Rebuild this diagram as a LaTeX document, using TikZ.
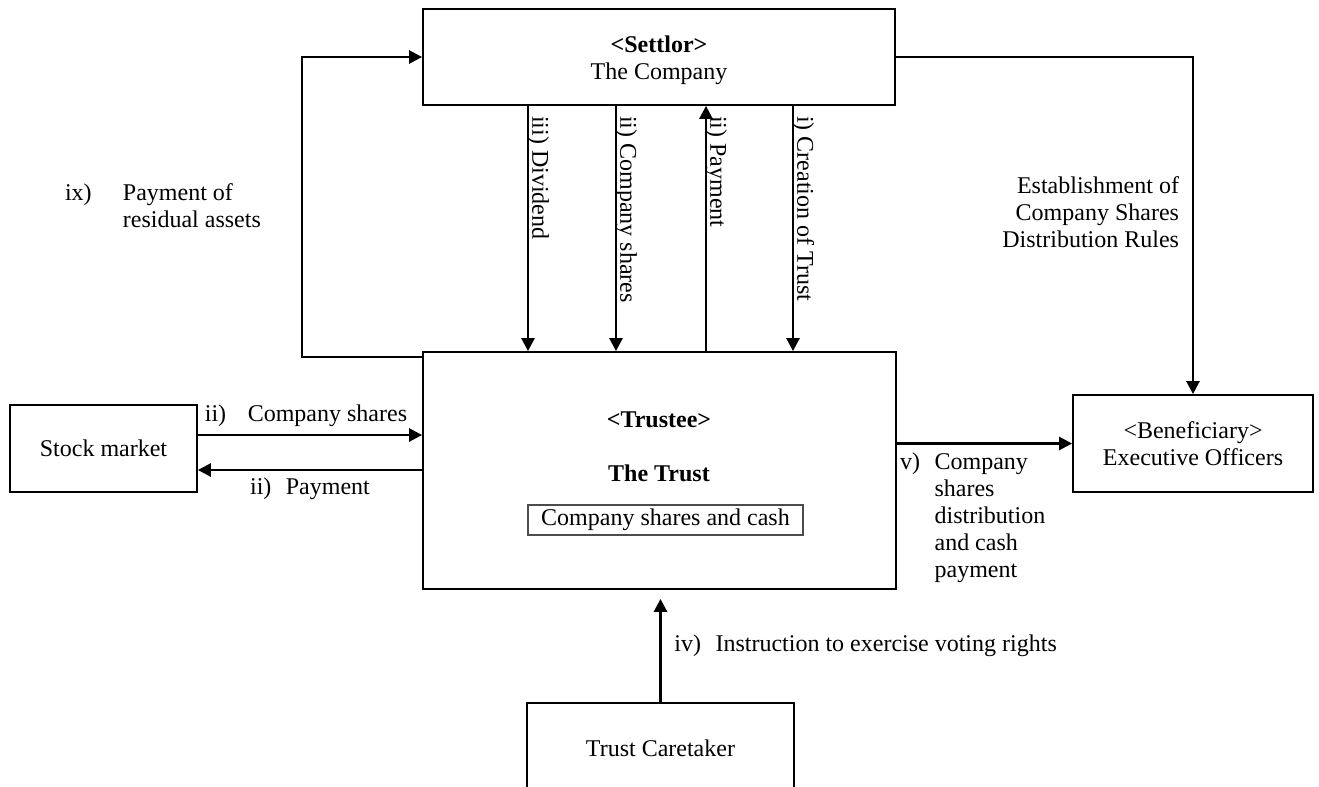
\documentclass[tikz,border=0pt]{standalone}
\usepackage{fontspec}
\setmainfont{Liberation Serif}
\usetikzlibrary{positioning, arrows.meta}

\begin{document}
\begin{tikzpicture}[x=0.5pt, y=-0.5pt,
    font=\fontsize{12}{13.5}\selectfont,
    box/.style={draw, line width=0.9pt, align=center, inner sep=0pt},
    arr/.style={line width=1.3pt, -{Triangle[length=6.5pt, width=6.5pt]}},
    vlabel/.style={rotate=-90, anchor=south west, inner sep=2pt, xshift=2.5pt, yshift=-3pt}]
    \useasboundingbox (0,0) rectangle (1319,787);
    \clip (0,0) rectangle (1319,787);

    \node[box, minimum width=236pt, minimum height=48pt] (settlor) at (659,57) {};
    \node[align=center] (settlortext) at (659,60) {\textbf{<Settlor>}\\The Company};
    \node[box, minimum width=236.5pt, minimum height=118.5pt] (trust) at (659.5,470.5) {};
    \node (trustee) at (659,420) {\textbf{<Trustee>}};
    \node (trustname) at (659,473) {\textbf{The Trust}};
    \node[draw=black!70, line width=0.6pt, minimum width=137.5pt, minimum height=15pt, inner ysep=1pt] (holdings) at (665.5,520) {Company shares and cash};
    \node[box, minimum width=93.5pt, minimum height=43.5pt] (stock) at (103.5,448.5) {Stock market};
    \node[box, minimum width=120pt, minimum height=48.5pt] (benef) at (1193,443.5) {<Beneficiary>\\Executive Officers};
    \node[box, minimum width=133.5pt, minimum height=45pt] (caretaker) at (660.5,748) {Trust Caretaker};

    \coordinate (xdiv) at (528,0);
    \coordinate (xsha) at (616,0);
    \coordinate (xpay) at (706,0);
    \coordinate (xcre) at (793,0);
    \coordinate (xloop) at (302,0);
    \coordinate (ybuy) at (0,435);
    \coordinate (ysell) at (0,470);

    \draw[arr] (settlor.south -| xdiv) -- (trust.north -| xdiv)
        node[vlabel, pos=0] (divlabel) {iii) Dividend};
    \draw[arr] (settlor.south -| xsha) -- (trust.north -| xsha)
        node[vlabel, pos=0] (shalabel) {ii) Company shares};
    \draw[arr] (trust.north -| xpay) -- (settlor.south -| xpay)
        node[vlabel, pos=1] (paylabel) {ii) Payment};
    \draw[arr] (settlor.south -| xcre) -- (trust.north -| xcre)
        node[vlabel, pos=0] (crelabel) {i) Creation of Trust};

    \draw[arr] ([yshift=-3pt]trust.north west) -| (xloop |- settlor.west) -- (settlor.west);
    \node[anchor=west] (residlabel) at (58,209) {\begin{tabular}{@{}l@{\hspace{1.3em}}l@{}} ix) & Payment of\\ & residual assets\end{tabular}};

    \draw[arr] (stock.east |- ybuy) -- (trust.west |- ybuy)
        node[midway, above, xshift=-2pt] (buylabel) {ii)\hspace{0.9em}Company shares};
    \draw[arr] (trust.west |- ysell) -- (stock.east |- ysell)
        node[midway, below] (selllabel) {ii)\hspace{0.6em}Payment};

    \draw[arr] (settlor.east) -| (benef.north)
        node[pos=0.73, left, align=right, xshift=-3pt] (rulelabel) {Establishment of\\Company Shares\\Distribution Rules};

    \draw[arr] (trust.east |- benef.west) -- (benef.west)
        node[pos=0, below right, inner sep=1pt, yshift=-2pt] (distlabel) {\begin{tabular}{@{}l@{\hspace{0.6em}}l@{}} v) & Company\\ & shares\\ & distribution\\ & and cash\\ & payment\end{tabular}};

    \draw[arr, shorten >=4.5pt] (caretaker.north) -- (caretaker.north |- trust.south)
        node[midway, right, xshift=3pt] (votelabel) {iv)\hspace{0.6em}Instruction to exercise voting rights};
\end{tikzpicture}
\end{document}
